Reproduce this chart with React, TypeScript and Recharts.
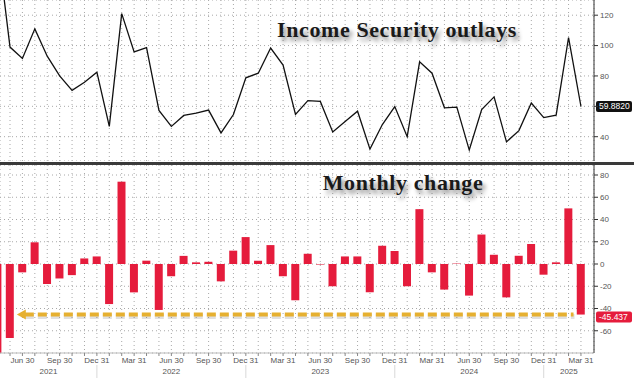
import React from "react";
import {
  LineChart,
  Line,
  BarChart,
  Bar,
  XAxis,
  YAxis,
  CartesianGrid,
  ReferenceLine
} from "recharts";

// month ends, Apr 2021 .. Mar 2025 (first one sits just off the left edge)
const months = [
  "2021-04", "2021-05", "2021-06", "2021-07", "2021-08", "2021-09", "2021-10", "2021-11", "2021-12",
  "2022-01", "2022-02", "2022-03", "2022-04", "2022-05", "2022-06", "2022-07", "2022-08", "2022-09", "2022-10", "2022-11", "2022-12",
  "2023-01", "2023-02", "2023-03", "2023-04", "2023-05", "2023-06", "2023-07", "2023-08", "2023-09", "2023-10", "2023-11", "2023-12",
  "2024-01", "2024-02", "2024-03", "2024-04", "2024-05", "2024-06", "2024-07", "2024-08", "2024-09", "2024-10", "2024-11", "2024-12",
  "2025-01", "2025-02", "2025-03"
];

// Income Security outlays ($bn)
const outlays = [
  166, 99.0, 91.5, 111.0, 93.0, 80.0, 70.5, 75.8, 82.5,
  46.8, 121.0, 95.8, 98.6, 57.3, 46.8, 54.0, 55.5, 57.5, 42.5, 54.6, 78.8,
  81.8, 98.4, 87.2, 54.6, 63.8, 63.2, 43.1, 50.0, 56.8, 31.8, 48.0, 59.8,
  40.0, 89.3, 81.8, 59.0, 59.5, 31.2, 57.8, 66.2, 36.6, 44.0, 62.2, 52.6,
  54.2, 105.3, 59.882
];

// monthly change
const change = [
  -95, -66.5, -7.5, 19.5, -18, -13, -10, 5, 6.8,
  -36, 74, -25.5, 3, -41.3, -11, 7.3, 1.5, 2, -15.6, 12, 24.2,
  3, 17, -11, -32.6, 9.2, -0.5, -20, 6.8, 6.8, -25.4, 16.4, 11.7,
  -20, 49.3, -7.5, -23, 0.4, -28.4, 26.5, 8.3, -30, 7.4, 18, -9.6,
  1.5, 50, -45.437
];

const quarterLabels: Record<string, string> = {
  "03": "Mar 31",
  "06": "Jun 30",
  "09": "Sep 30",
  "12": "Dec 31"
};
const years = ["2021", "2022", "2023", "2024", "2025"];
const topTicks = [40, 60, 80, 100, 120];
const bottomTicks = [-60, -40, -20, 0, 20, 40, 60, 80];

const data = months.map((m, i) => ({
  i,
  m,
  level: outlays[i],
  change: change[i]
}));

const xDomain: [number, number] = [0.194, 48.05];
const monthTicks = months.map((_, i) => i).filter((i) => i >= 1);
const yearEnds = months
  .map((m, i) => (m.endsWith("-12") ? i : -1))
  .filter((i) => i >= 0);
const bounds = [xDomain[0], ...yearEnds, xDomain[1]];
const yearCenters = years.map((_, k) => (bounds[k] + bounds[k + 1]) / 2);

const FONT = "'Liberation Sans', Arial, sans-serif";
const tickStyle = { fontSize: 8, fill: "#555", fontFamily: FONT };
const gridColor = "#a8a8a8";

const ValueTag = ({ viewBox, text, bg, dy = 0 }: any) => {
  if (!viewBox) return null;
  const x = viewBox.x + viewBox.width + 2;
  const y = viewBox.y + dy;
  return (
    <g>
      <rect x={x} y={y - 5.5} width={36} height={11} rx={2} fill={bg} />
      <text
        x={x + 3}
        y={y + 3}
        fontSize={8.5}
        fill="#fff"
        fontFamily={FONT}
      >
        {text}
      </text>
    </g>
  );
};

const DashArrow = (props: any) => {
  const { x1, y1, x2, y2 } = props;
  const c = "#e6b030";
  return (
    <g>
      <line
        x1={x1 + 8}
        y1={y1 + 2}
        x2={x2 + 1}
        y2={y2 + 2}
        stroke="rgba(0,0,0,0.12)"
        strokeWidth={5}
        strokeDasharray="9 4"
      />
      <line
        x1={x1 + 8}
        y1={y1}
        x2={x2}
        y2={y2}
        stroke={c}
        strokeWidth={4}
        strokeDasharray="9 4"
      />
      <polygon
        points={`${x1},${y1} ${x1 + 9},${y1 - 5} ${x1 + 9},${y1 + 5}`}
        fill={c}
      />
    </g>
  );
};

const titleStyle: React.CSSProperties = {
  position: "absolute",
  fontFamily: "'Liberation Serif', 'Times New Roman', serif",
  fontWeight: "bold",
  fontSize: 22,
  lineHeight: "22px",
  letterSpacing: 0.6,
  color: "#1a1a1a",
  textShadow: "3px 4px 4px rgba(0,0,0,0.45)",
  whiteSpace: "nowrap",
  textAlign: "center",
  width: 300
};

function App() {
  return (
    <div
      style={{
        position: "absolute",
        left: 0,
        top: 0,
        width: 634,
        height: 385,
        background: "#fff",
        overflow: "hidden"
      }}
    >
      <div style={{ position: "absolute", left: 0, top: 0 }}>
        <LineChart
          width={634}
          height={161}
          data={data}
          margin={{ top: 0, right: 0, left: 0, bottom: 0 }}
        >
          <CartesianGrid stroke={gridColor} strokeDasharray="1 3" />
          <XAxis
            dataKey="i"
            type="number"
            domain={xDomain}
            allowDataOverflow
            ticks={monthTicks}
            interval={0}
            hide
          />
          <YAxis
            orientation="right"
            width={40}
            domain={[24, 130]}
            allowDataOverflow
            ticks={topTicks}
            interval={0}
            tick={tickStyle}
            tickSize={4}
            tickMargin={2}
            tickFormatter={(v) => (v === 60 ? "" : String(v))}
            axisLine={{ stroke: "#333" }}
            tickLine={{ stroke: "#333" }}
          />
          <Line
            type="linear"
            dataKey="level"
            stroke="#111"
            strokeWidth={1.3}
            dot={false}
            isAnimationActive={false}
          />
          <ReferenceLine
            y={outlays[outlays.length - 1]}
            stroke="none"
            label={<ValueTag text="59.8820" bg="#111" />}
          />
        </LineChart>
      </div>

      <div
        style={{
          position: "absolute",
          left: 0,
          top: 162,
          width: 634,
          height: 3,
          background: "#3a3a3a"
        }}
      />

      <div style={{ position: "absolute", left: 0, top: 165 }}>
        <BarChart
          width={634}
          height={220}
          data={data}
          margin={{ top: 0, right: 0, left: 0, bottom: 0 }}
        >
          <CartesianGrid stroke={gridColor} strokeDasharray="1 3" />
          <XAxis
            dataKey="i"
            type="number"
            domain={xDomain}
            allowDataOverflow
            ticks={monthTicks}
            interval={0}
            height={12}
            tick={tickStyle}
            tickSize={3}
            tickMargin={1}
            tickFormatter={(v) => quarterLabels[months[v].slice(5)] || ""}
            axisLine={{ stroke: "#bbb" }}
            tickLine={{ stroke: "#888" }}
          />
          <XAxis
            xAxisId="sep"
            dataKey="i"
            type="number"
            domain={xDomain}
            allowDataOverflow
            ticks={yearEnds}
            interval={0}
            height={1}
            tickSize={13}
            tickFormatter={() => ""}
            axisLine={false}
            tickLine={{ stroke: "#d8d8d8" }}
          />
          <XAxis
            xAxisId="year"
            dataKey="i"
            type="number"
            domain={xDomain}
            allowDataOverflow
            ticks={yearCenters}
            interval={0}
            height={19}
            tick={tickStyle}
            tickSize={0}
            tickMargin={2}
            tickFormatter={(v) => years[yearCenters.indexOf(v)] || ""}
            axisLine={false}
          />
          <YAxis
            orientation="right"
            width={40}
            domain={[-80, 89]}
            allowDataOverflow
            ticks={bottomTicks}
            interval={0}
            tick={tickStyle}
            tickSize={4}
            tickMargin={2}
            axisLine={{ stroke: "#333" }}
            tickLine={{ stroke: "#333" }}
          />
          <Bar
            dataKey="change"
            fill="#e51c3c"
            barSize={8}
            isAnimationActive={false}
          />
          <ReferenceLine
            segment={[
              { x: 1.55, y: change[change.length - 1] },
              { x: 46.4, y: change[change.length - 1] }
            ]}
            shape={<DashArrow />}
          />
          <ReferenceLine
            y={change[change.length - 1]}
            stroke="none"
            label={<ValueTag text="-45.437" bg="#e51c3c" dy={2.5} />}
          />
        </BarChart>
      </div>

      <div style={{ ...titleStyle, left: 397 - 150, top: 19 }}>
        Income Security outlays
      </div>
      <div style={{ ...titleStyle, left: 403 - 150, top: 172 }}>
        Monthly change
      </div>
    </div>
  );
}

export default App;
